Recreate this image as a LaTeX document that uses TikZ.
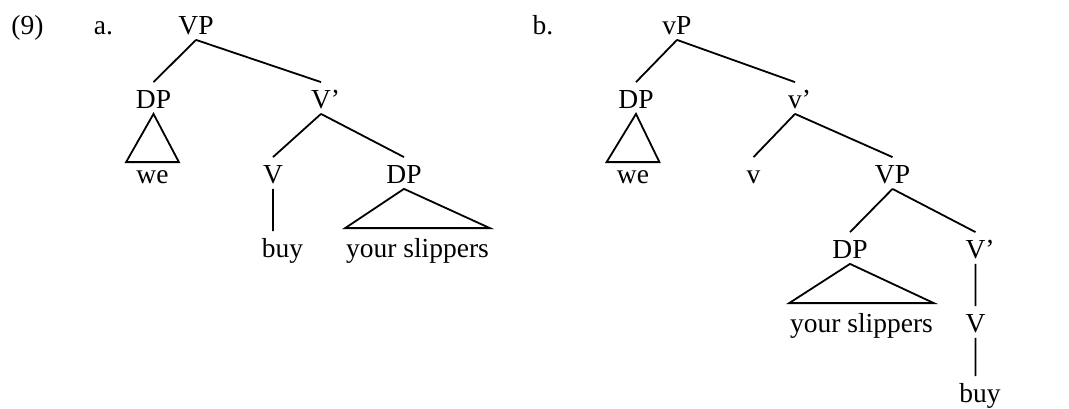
\documentclass[tikz,border=0pt]{standalone}
\usepackage{fontspec}
\setmainfont{Liberation Serif}

\begin{document}
\begin{tikzpicture}[x=0.5pt, y=-0.5pt, line width=0.9pt,
        font=\fontsize{13.75}{16}\selectfont,
        cat/.style={anchor=base, text height=10pt, text depth=0pt, inner sep=2.5pt},
        roof/.style={anchor=base, text height=10pt, inner xsep=0pt, inner ysep=4pt},
        smallroof/.style={anchor=base, text height=10pt, inner sep=0pt, minimum width=25.5pt}]
        \useasboundingbox (0,0) rectangle (1069,408);

        \node[anchor=base] (ex) at (27.5,34)  {(9)};
        \node[anchor=base] (la) at (103.5,34) {a.};
        \node[anchor=base] (lb) at (543,34)   {b.};

        % tree a
        \node[cat]       (vpa)   at (196,34)    {VP};
        \node[cat]       (dpa)   at (153.5,108) {DP};
        \node[cat]       (vbara) at (321,108)   {V\rlap{’}};
        \node[smallroof] (wea)   at (152.5,183) {we};
        \node[cat]       (va)    at (273,183)   {V};
        \node[cat]       (dpa2)  at (404,183)   {DP};
        \node[cat]       (buya)  at (282.5,257) {buy};
        \node[roof]      (slipa) at (417.5,257) {your slippers};

        \draw
            (vpa.south) -- (dpa.north)
            (vpa.south) -- (vbara.north)
            (dpa.south) -- (wea.north west) -- (wea.north east) -- cycle
            (vbara.south) -- (va.north)
            (vbara.south) -- (dpa2.north)
            (va.south) -- (va.south |- buya.north)
            (dpa2.south) -- (slipa.north west) -- (slipa.north east) -- cycle
            ;

        % tree b
        \node[cat]       (vpb)    at (677,34)    {vP};
        \node[cat]       (dpb)    at (636,108)   {DP};
        \node[cat]       (vbarb)  at (795,108)   {v\rlap{’}};
        \node[smallroof] (web)    at (633,183)   {we};
        \node[cat]       (vb)     at (753.5,183) {v};
        \node[cat]       (vpb2)   at (892.5,183) {VP};
        \node[cat]       (dpb2)   at (850,258)   {DP};
        \node[cat]       (vbarb2) at (975.5,258) {V\rlap{’}};
        \node[roof]      (slipb)  at (861.5,332) {your slippers};
        \node[cat]       (vb2)    at (975.5,332) {V};
        \node[cat]       (buyb)   at (980,402)   {buy};

        \draw
            (vpb.south) -- (dpb.north)
            (vpb.south) -- (vbarb.north)
            (dpb.south) -- (web.north west) -- (web.north east) -- cycle
            (vbarb.south) -- (vb.north)
            (vbarb.south) -- (vpb2.north)
            (vpb2.south) -- (dpb2.north)
            (vpb2.south) -- (vbarb2.north)
            (dpb2.south) -- (slipb.north west) -- (slipb.north east) -- cycle
            (vbarb2.south) -- (vb2.north)
            (vb2.south) -- (vb2.south |- buyb.north)
            ;
\end{tikzpicture}
\end{document}
